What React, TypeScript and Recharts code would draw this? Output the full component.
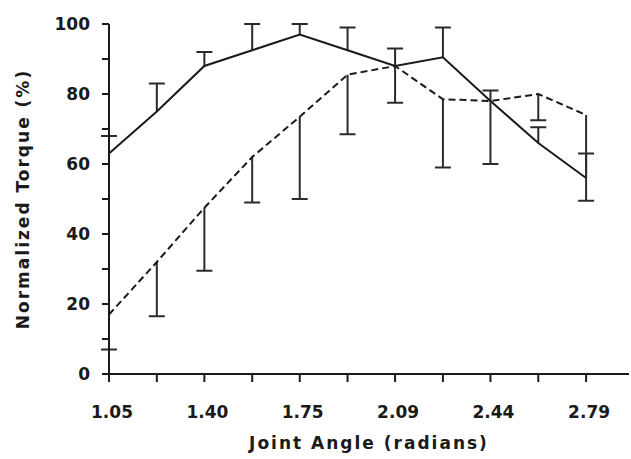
import React from "react";
import { LineChart, Line, XAxis, YAxis, ErrorBar } from "recharts";

// joint angles, 60..160 degrees in radians
const angles = [1.047, 1.222, 1.396, 1.571, 1.745, 1.92, 2.094, 2.269, 2.443, 2.618, 2.793];
const xTickLabels = ["1.05", "", "1.40", "", "1.75", "", "2.09", "", "2.44", "", "2.79"];
const yTicks = [0, 10, 20, 30, 40, 50, 60, 70, 80, 90, 100];
const yTickLabels = ["0", "", "20", "", "40", "", "60", "", "80", "", "100"];

// solid curve + upward SD
const solidTorque = [63, 75, 88, 92.5, 97, 92.5, 88, 90.5, 78, 66, 56];
const solidUp = [5, 8, 4, 7.5, 3, 6.5, 5, 8.5, 3, 4.5, 7];
// dashed curve + downward SD
const dashedTorque = [17, 32, 47.5, 62, 73.5, 85.5, 88, 78.5, 78, 80, 74];
const dashedDown = [10, 15.5, 18, 13, 23.5, 17, 10.5, 19.5, 18, 7.5, 24.5];

const data = angles.map((a, i) => ({
  angle: a,
  solid: solidTorque[i],
  solidErr: [0, solidUp[i]],
  dashed: dashedTorque[i],
  dashedErr: [dashedDown[i], 0],
}));

const FONT = "'DejaVu Sans', sans-serif";
const INK = "#1a1a1a";
const SOLID_ERR = "#2a2a2a";
const DASHED_ERR = "#2b2b2b";

// one-sided bars: drop the cap that sits on the curve
const capCss = `
[stroke="${SOLID_ERR}"] line:nth-child(3), line[stroke="${SOLID_ERR}"]:nth-child(3) { display: none; }
[stroke="${DASHED_ERR}"] line:nth-child(1), line[stroke="${DASHED_ERR}"]:nth-child(1) { display: none; }
`;

const XTick = (props: any) => {
  const { x, y, index } = props;
  const label = xTickLabels[index];
  if (!label) return null;
  return (
    <text x={x + 3} y={y} dy="0.75em" textAnchor="middle" fontFamily={FONT} fontWeight="bold" fontSize={17} fill={INK}>
      {label}
    </text>
  );
};

const YTick = (props: any) => {
  const { x, y, index } = props;
  const label = yTickLabels[index];
  if (!label) return null;
  return (
    <text x={x} y={y} dy="0.36em" textAnchor="end" fontFamily={FONT} fontWeight="bold" fontSize={17} fill={INK}>
      {label}
    </text>
  );
};

const YLabel = (props: any) => {
  const { viewBox } = props;
  const cx = viewBox.x + 23;
  const cy = viewBox.y + viewBox.height / 2;
  return (
    <text
      x={cx}
      y={cy}
      transform={`rotate(-90 ${cx} ${cy})`}
      textAnchor="middle"
      dominantBaseline="central"
      fontFamily={FONT}
      fontWeight="bold"
      fontSize={17}
      letterSpacing={2}
      fill={INK}
    >
      Normalized Torque (%)
    </text>
  );
};

const XLabel = (props: any) => {
  const { viewBox } = props;
  const cx = viewBox.x + viewBox.width / 2;
  const cy = viewBox.y + 69;
  return (
    <text x={cx} y={cy} textAnchor="middle" dominantBaseline="central" fontFamily={FONT} fontWeight="bold" fontSize={17} letterSpacing={2} fill={INK}>
      Joint Angle (radians)
    </text>
  );
};

export default function App() {
  return (
    <div style={{ position: "absolute", left: 0, top: 0, width: 631, height: 459, background: "#fff" }}>
      <style>{capCss}</style>
      <LineChart width={631} height={459} data={data} margin={{ top: 24, right: 2, bottom: 0, left: 0 }}>
        <XAxis
          dataKey="angle"
          type="number"
          domain={[1.047, 2.95]}
          ticks={angles}
          tick={<XTick />}
          tickSize={8}
          tickMargin={23}
          height={85}
          axisLine={{ stroke: INK, strokeWidth: 2 }}
          tickLine={{ stroke: INK, strokeWidth: 2 }}
          interval={0}
          label={<XLabel />}
        />
        <YAxis
          type="number"
          domain={[0, 100]}
          ticks={yTicks}
          tick={<YTick />}
          tickSize={7}
          tickMargin={12}
          width={109}
          axisLine={{ stroke: INK, strokeWidth: 2 }}
          tickLine={{ stroke: INK, strokeWidth: 2 }}
          interval={0}
          label={<YLabel />}
        />
        <Line
          dataKey="solid"
          type="linear"
          stroke={INK}
          strokeWidth={2}
          dot={false}
          isAnimationActive={false}
        >
          <ErrorBar dataKey="solidErr" direction="y" width={8} stroke={SOLID_ERR} strokeWidth={2} isAnimationActive={false} />
        </Line>
        <Line
          dataKey="dashed"
          type="linear"
          stroke={INK}
          strokeWidth={2}
          strokeDasharray="7 4"
          dot={false}
          isAnimationActive={false}
        >
          <ErrorBar dataKey="dashedErr" direction="y" width={8} stroke={DASHED_ERR} strokeWidth={2} isAnimationActive={false} />
        </Line>
      </LineChart>
    </div>
  );
}
